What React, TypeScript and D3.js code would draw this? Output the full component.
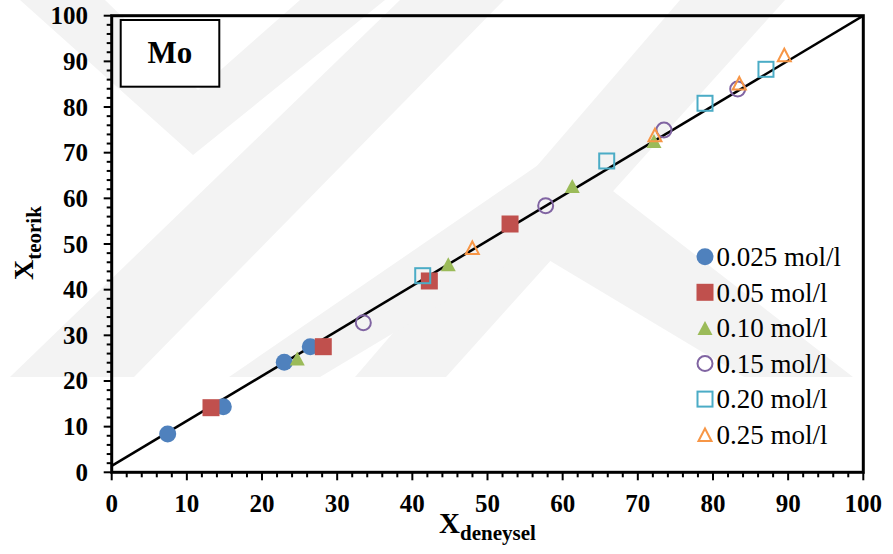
import React from "react";
import * as d3 from "d3";

const W = 893;
const H = 554;

// data
const s025: [number, number][] = [[7.45, 8.39], [14.85, 14.37], [22.96, 24.09], [26.42, 27.51]];
const s05: [number, number][] = [[13.21, 14.15], [28.15, 27.51], [42.26, 41.9], [53.0, 54.38]];
const s10: [number, number][] = [[24.69, 24.9], [44.78, 45.55], [61.28, 62.7], [72.15, 72.56]];
const s15: [number, number][] = [[33.48, 32.76], [57.74, 58.39], [73.48, 74.97], [83.29, 83.95]];
const s20: [number, number][] = [[41.38, 43.06], [65.86, 68.18], [78.94, 80.82], [87.05, 88.26]];
const s25: [number, number][] = [[47.98, 49.19], [72.28, 73.87], [83.5, 85.2], [89.49, 91.39]];
const legendLabels = ["0.025 mol/l", "0.05 mol/l", "0.10 mol/l", "0.15 mol/l", "0.20 mol/l", "0.25 mol/l"];
const fitLine: [number, number][] = [[0, 1.4], [100, 100]];
const majorTicks = d3.range(0, 101, 10);
const minorTicks = d3.range(0, 101, 2);

const FONT = "'Liberation Serif', 'Times New Roman', Times, serif";

const x = d3.scaleLinear().domain([0, 100]).range([111.7, 863.3]);
const y = d3.scaleLinear().domain([0, 100]).range([472.3, 15.7]);

type Kind = "fcircle" | "fsquare" | "ftri" | "ocircle" | "osquare" | "otri";

const series: { data: [number, number][]; kind: Kind; color: string }[] = [
  { data: s025, kind: "fcircle", color: "#4F81BD" },
  { data: s05, kind: "fsquare", color: "#C0504D" },
  { data: s10, kind: "ftri", color: "#9BBB59" },
  { data: s15, kind: "ocircle", color: "#8064A2" },
  { data: s20, kind: "osquare", color: "#4BACC6" },
  { data: s25, kind: "otri", color: "#F79646" },
];

function Marker({ kind, color, cx, cy }: { kind: Kind; color: string; cx: number; cy: number }) {
  switch (kind) {
    case "fcircle":
      return <circle cx={cx} cy={cy} r={8.5} fill={color} />;
    case "fsquare":
      return <rect x={cx - 8.5} y={cy - 8.5} width={17} height={17} fill={color} />;
    case "ftri": {
      const w = 15, h = 14;
      return <path d={`M${cx},${cy - h / 2}L${cx + w / 2},${cy + h / 2}L${cx - w / 2},${cy + h / 2}Z`} fill={color} />;
    }
    case "ocircle":
      return <circle cx={cx} cy={cy} r={7.5} fill="none" stroke={color} strokeWidth={2} />;
    case "osquare":
      return <rect x={cx - 7.5} y={cy - 7.5} width={15} height={15} fill="none" stroke={color} strokeWidth={2} />;
    case "otri": {
      const w = 13, h = 12.5;
      return <path d={`M${cx},${cy - h / 2}L${cx + w / 2},${cy + h / 2}L${cx - w / 2},${cy + h / 2}Z`} fill="none" stroke={color} strokeWidth={2} />;
    }
  }
  return null;
}

export default function App() {
  const line = d3.line<[number, number]>().x((d) => x(d[0])).y((d) => y(d[1]));
  const legendX = 705;
  const legendY0 = 256.7;
  const legendStep = 35.6;
  const wm = "#f3f3f3";
  return (
    <svg width={W} height={H} style={{ position: "absolute", left: 0, top: 0, background: "#fff" }} fontFamily={FONT}>
      <rect x={0} y={0} width={W} height={H} fill="#fff" />
      {/* faint background watermark */}
      <g fill={wm}>
        <polygon points="20,0 105,0 198,90 300,0 385,0 193,155" />
        <polygon points="400,0 504,0 134,377 10,377" />
        <polygon points="680,0 785,0 446,377 355,377" />
        <polygon points="229,377 560,150 853,377 744,377 532,250 320,377" />
      </g>
      <defs>
        <clipPath id="plotclip">
          <rect x={x(0)} y={y(100)} width={x(100) - x(0)} height={y(0) - y(100)} />
        </clipPath>
      </defs>
      {/* ticks */}
      <g stroke="#000" strokeWidth={2}>
        {minorTicks.map((t) => (
          <line key={"xm" + t} x1={x(t)} x2={x(t)} y1={y(0)} y2={y(0) + (t % 10 === 0 ? 8 : 5)} />
        ))}
        {minorTicks.map((t) => (
          <line key={"ym" + t} x1={x(0)} x2={x(0) - (t % 10 === 0 ? 8 : 5)} y1={y(t)} y2={y(t)} />
        ))}
      </g>
      {/* tick labels */}
      <g fontWeight="bold" fontSize={25} fill="#000">
        {majorTicks.map((t) => (
          <text key={"xl" + t} x={x(t)} y={511.5} textAnchor="middle">{t}</text>
        ))}
        {majorTicks.map((t) => (
          <text key={"yl" + t} x={88} y={y(t) + 8.5} textAnchor="end">{t}</text>
        ))}
      </g>
      {/* fit line */}
      <path d={line(fitLine) || ""} stroke="#000" strokeWidth={2.5} fill="none" clipPath="url(#plotclip)" />
      {/* series */}
      {series.map((s, i) => (
        <g key={"s" + i}>
          {s.data.map((d, j) => (
            <Marker key={j} kind={s.kind} color={s.color} cx={x(d[0])} cy={y(d[1])} />
          ))}
        </g>
      ))}
      {/* frame */}
      <rect x={x(0)} y={y(100)} width={x(100) - x(0)} height={y(0) - y(100)} fill="none" stroke="#000" strokeWidth={3} />
      {/* Mo box */}
      <rect x={120.7} y={20} width={98.6} height={66.7} fill="#fff" stroke="#000" strokeWidth={2} />
      <text x={170} y={63} textAnchor="middle" fontWeight="bold" fontSize={31}>Mo</text>
      {/* legend */}
      {series.map((s, i) => (
        <g key={"lg" + i}>
          <Marker kind={s.kind} color={s.color} cx={legendX} cy={legendY0 + i * legendStep} />
          <text x={716.5} y={legendY0 + i * legendStep + 9.2} fontSize={27} fill="#000">{legendLabels[i]}</text>
        </g>
      ))}
      {/* axis titles */}
      <text x={439} y={533.3} fontWeight="bold" fontSize={29} fill="#000">
        X<tspan fontSize={21} dy={6.2}>deneysel</tspan>
      </text>
      <text transform="translate(33.3,280) rotate(-90)" x={0} y={0} fontWeight="bold" fontSize={28} fill="#000">
        X<tspan fontSize={21} dy={8}>teorik</tspan>
      </text>
    </svg>
  );
}
